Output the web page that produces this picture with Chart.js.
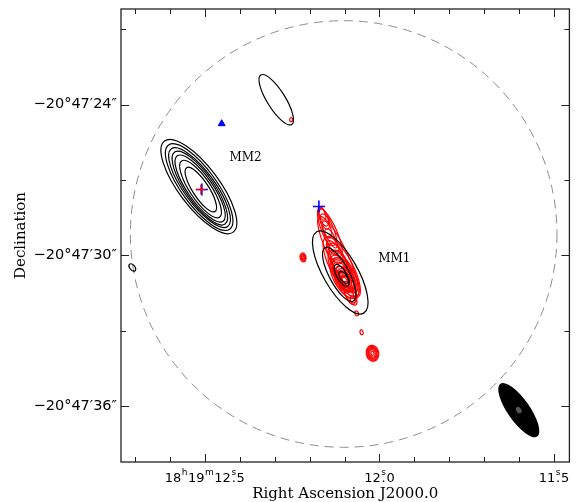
<!DOCTYPE html>
<html>
<head>
<meta charset="utf-8">
<script src="https://cdn.jsdelivr.net/npm/chart.js@4.4.1/dist/chart.umd.min.js"></script>
<style>
  html, body { margin: 0; padding: 0; background: #ffffff; }
  #wrap { width: 577px; height: 502px; }
</style>
</head>
<body>
<div id="wrap"><canvas id="map" width="577" height="502"></canvas></div>
<script>
// Field: RA in seconds of time after 18h19m, Dec in arcsec beyond -20°47'
const raRange  = [11.456, 12.74];
const decRange = [20.19, 38.22];

const raMajorTicks  = [12.5, 12.0, 11.5];
const raMinorTicks  = [12.7, 12.6, 12.4, 12.3, 12.2, 12.1, 11.9, 11.8, 11.7, 11.6];
const raTickLabels  = ["18h19m12s5", "12s0", "11s5"];
const decMajorTicks = [24, 30, 36];
const decMinorTicks = [21, 27, 33];
const decTickLabels = ["\u221220\u00b047\u203224\u2033", "\u221220\u00b047\u203230\u2033", "\u221220\u00b047\u203236\u2033"];

// Contour ellipses: [RA (s), Dec (arcsec), semi-major ("), semi-minor ("), PA (deg E of N)]
const mm2Contours = [
  [12.5170, 27.258, 2.27, 0.80, 37],
  [12.5162, 27.278, 2.07, 0.70, 36],
  [12.5151, 27.298, 1.91, 0.62, 36],
  [12.5142, 27.317, 1.75, 0.56, 35],
  [12.5134, 27.337, 1.59, 0.50, 35],
  [12.5122, 27.357, 1.35, 0.42, 34],
  [12.5114, 27.377, 1.04, 0.32, 33]
];
const northContours = [
  [12.2955, 23.801, 1.16, 0.36, 32],
  [12.7074, 30.476, 0.17, 0.10, 40]
];
const mm1Contours = [
  [12.1122, 30.675, 1.87, 0.68, 30],
  [12.1151, 30.754, 1.20, 0.40, 28],
  [12.1080, 30.794, 0.49, 0.20, 30],
  [12.1023, 30.873, 0.28, 0.13, 35]
];
// Line emission along the MM1 outflow
const mm1LineContours = [
  [12.1591, 28.489, 0.359, 0.159, 20],
  [12.1477, 28.887, 0.876, 0.199, 22],
  [12.1420, 29.085, 1.036, 0.279, 24],
  [12.1193, 29.960, 1.673, 0.359, 26],
  [12.1080, 30.476, 1.355, 0.438, 28],
  [12.1023, 30.714, 1.036, 0.398, 30],
  [12.0994, 30.834, 0.757, 0.319, 32],
  [12.0994, 30.913, 0.558, 0.259, 32],
  [12.0994, 30.953, 0.398, 0.199, 32],
  [12.0994, 30.992, 0.239, 0.139, 35],
  [12.0994, 30.992, 0.139, 0.080, 35],
  [12.0852, 31.588, 0.398, 0.159, 25],
  [12.1648, 28.331, 0.28, 0.12, 22],
  [12.1562, 28.648, 0.32, 0.16, 22],
  [12.1506, 28.966, 0.36, 0.16, 22],
  [12.1420, 29.284, 0.36, 0.18, 24],
  [12.1335, 29.602, 0.40, 0.20, 24],
  [12.1250, 29.920, 0.44, 0.24, 25],
  [12.1165, 30.238, 0.48, 0.28, 26],
  [12.1080, 30.555, 0.52, 0.32, 28],
  [12.0994, 30.953, 0.56, 0.36, 30],
  [12.0909, 31.271, 0.48, 0.28, 30],
  [12.0824, 31.549, 0.36, 0.20, 28],
  [12.0739, 31.787, 0.20, 0.12, 25],
  [12.0994, 30.953, 0.46, 0.30, 30],
  [12.0994, 30.953, 0.34, 0.24, 30],
  [12.0994, 30.953, 0.28, 0.18, 30],
  [12.0994, 30.953, 0.20, 0.13, 30],
  [12.1023, 30.850, 0.66, 0.30, 30],
  [12.1050, 30.700, 0.80, 0.34, 29],
  [12.1000, 30.900, 0.90, 0.42, 30],
  [12.1110, 30.400, 1.10, 0.30, 27]
];
const lineKnots = [
  [12.2188, 30.079, 0.18, 0.12, 10],
  [12.2188, 30.079, 0.14, 0.09, 10],
  [12.2188, 30.079, 0.10, 0.06, 10],
  [12.2188, 30.079, 0.06, 0.04, 10],
  [12.0653, 32.304, 0.10, 0.07, 20],
  [12.0511, 33.058, 0.10, 0.06, 10],
  [12.0199, 33.893, 0.32, 0.25, 10],
  [12.0199, 33.893, 0.28, 0.22, 10],
  [12.0199, 33.893, 0.24, 0.18, 10],
  [12.0199, 33.893, 0.20, 0.15, 10],
  [12.0199, 33.893, 0.15, 0.11, 10],
  [12.0199, 33.893, 0.08, 0.06, 10],
  [12.2528, 24.596, 0.08, 0.06, 0]
];

// Primary beam (dashed) and synthesized beam
const primaryBeam = [12.1023, 29.145, 8.49];
const synthBeam   = [11.6009, 36.157, 1.28, 0.44, 35];
const synthBeamCore = [11.6009, 36.157, 0.14, 0.10, 35];

// Point sources
const blueCrossRa  = [12.5085, 12.1733];
const blueCrossDec = [27.377, 28.052];
const redCrossRa   = [12.5114];
const redCrossDec  = [27.377];
const triangleRa   = [12.4517];
const triangleDec  = [24.755];

// Source names
const sourceNames = ["MM2", "MM1"];
const sourceRa    = [12.3835, 11.9574];
const sourceDec   = [26.106, 30.118];

function toPoints(ra, dec) { return ra.map((r, i) => ({ x: r, y: dec[i] })); }

function ellipsePath(ctx, xs, ys, e) {
  const [ra, dec, maj, mn, pa] = e;
  const cx = xs.getPixelForValue(ra), cy = ys.getPixelForValue(dec);
  const k = Math.abs(ys.getPixelForValue(dec + 1) - cy);
  const p = pa * Math.PI / 180;
  const rot = Math.atan2(-Math.cos(p), -Math.sin(p));
  ctx.beginPath();
  ctx.ellipse(cx, cy, maj * k, mn * k, rot, 0, Math.PI * 2);
}

const contourLayer = {
  id: 'contourLayer',
  beforeDatasetsDraw(chart) {
    const { ctx, chartArea: a, scales: { x, y } } = chart;
    ctx.save();
    ctx.beginPath();
    ctx.rect(a.left, a.top, a.right - a.left, a.bottom - a.top);
    ctx.clip();

    // primary beam circle
    const cx = x.getPixelForValue(primaryBeam[0]);
    const cy = y.getPixelForValue(primaryBeam[1]);
    const r = Math.abs(y.getPixelForValue(primaryBeam[1] + primaryBeam[2]) - cy);
    ctx.setLineDash([9, 6]);
    ctx.strokeStyle = '#8c8c8c';
    ctx.lineWidth = 1;
    ctx.beginPath();
    ctx.arc(cx, cy, r, 0, Math.PI * 2);
    ctx.stroke();
    ctx.setLineDash([]);

    // line emission (red)
    ctx.strokeStyle = '#ff0000';
    ctx.lineWidth = 1.2;
    [...mm1LineContours, ...lineKnots].forEach(e => { ellipsePath(ctx, x, y, e); ctx.stroke(); });

    // continuum (black)
    ctx.strokeStyle = '#000000';
    ctx.lineWidth = 1.2;
    [...mm2Contours, ...northContours, ...mm1Contours].forEach(e => { ellipsePath(ctx, x, y, e); ctx.stroke(); });

    // synthesized beam
    ctx.fillStyle = '#000000';
    ellipsePath(ctx, x, y, synthBeam); ctx.fill();
    ctx.fillStyle = '#555555';
    ellipsePath(ctx, x, y, synthBeamCore); ctx.fill();

    // source names
    ctx.fillStyle = '#000000';
    ctx.font = '12px "DejaVu Serif"';
    ctx.textAlign = 'center';
    ctx.textBaseline = 'middle';
    sourceNames.forEach((n, i) => ctx.fillText(n, x.getPixelForValue(sourceRa[i]), y.getPixelForValue(sourceDec[i])));
    ctx.restore();
  }
};

function drawRaLabel(ctx, text, cx, baseY) {
  const big = '13px "DejaVu Sans"', small = '9px "DejaVu Sans"';
  const parts = [];
  for (const ch of text) {
    if (ch === 'h' || ch === 'm' || ch === 's') parts.push({ t: ch, sup: true });
    else parts.push({ t: ch, sup: false });
  }
  let w = 0;
  parts.forEach(p => {
    ctx.font = p.sup ? small : big;
    p.w = ctx.measureText(p.t).width + (p.sup ? 1 : 0);
    w += p.w;
  });
  let xx = cx - w / 2;
  parts.forEach(p => {
    ctx.font = p.sup ? small : big;
    ctx.textAlign = 'left';
    ctx.textBaseline = 'alphabetic';
    ctx.fillText(p.t, xx + (p.sup ? 0.5 : 0), p.sup ? baseY - 7 : baseY);
    if (p.t === 's') {
      ctx.font = big;
      ctx.textAlign = 'center';
      ctx.fillText('.', xx + p.w / 2, baseY);
    }
    xx += p.w;
  });
}

const frameLayer = {
  id: 'frameLayer',
  afterDraw(chart) {
    const { ctx, chartArea: a, scales: { x, y } } = chart;
    ctx.save();
    ctx.strokeStyle = '#222222';
    ctx.lineWidth = 1.3;
    ctx.strokeRect(a.left, a.top, a.right - a.left, a.bottom - a.top);
    ctx.lineWidth = 1;
    ctx.beginPath();
    const tickX = (v, len) => {
      const px = Math.round(x.getPixelForValue(v)) + 0.5;
      ctx.moveTo(px, a.bottom); ctx.lineTo(px, a.bottom - len);
      ctx.moveTo(px, a.top); ctx.lineTo(px, a.top + len);
    };
    const tickY = (v, len) => {
      const py = Math.round(y.getPixelForValue(v)) + 0.5;
      ctx.moveTo(a.left, py); ctx.lineTo(a.left + len, py);
      ctx.moveTo(a.right, py); ctx.lineTo(a.right - len, py);
    };
    raMajorTicks.forEach(v => tickX(v, 8));
    raMinorTicks.forEach(v => tickX(v, 5));
    decMajorTicks.forEach(v => tickY(v, 8));
    decMinorTicks.forEach(v => tickY(v, 5));
    ctx.stroke();

    ctx.fillStyle = '#000000';
    raMajorTicks.forEach((v, i) => drawRaLabel(ctx, raTickLabels[i], x.getPixelForValue(v), a.bottom + 20));
    ctx.font = '14.5px "DejaVu Sans"';
    ctx.textAlign = 'right';
    ctx.textBaseline = 'middle';
    decMajorTicks.forEach((v, i) => ctx.fillText(decTickLabels[i], a.left - 4, y.getPixelForValue(v)));

    ctx.font = '15px "DejaVu Serif"';
    ctx.textAlign = 'center';
    ctx.textBaseline = 'alphabetic';
    ctx.fillText('Right Ascension J2000.0', (a.left + a.right) / 2, a.bottom + 36);
    ctx.save();
    ctx.translate(25, (a.top + a.bottom) / 2);
    ctx.rotate(-Math.PI / 2);
    ctx.fillText('Declination', 0, 0);
    ctx.restore();
    ctx.restore();
  }
};

new Chart(document.getElementById('map'), {
  type: 'scatter',
  data: {
    datasets: [
      { label: 'ref', data: toPoints(redCrossRa, redCrossDec), pointStyle: 'cross', pointRadius: 5, borderColor: '#ff0000', borderWidth: 1.2 },
      { label: 'cont', data: toPoints(blueCrossRa, blueCrossDec), pointStyle: 'cross', pointRadius: 6, borderColor: '#0000ff', borderWidth: 1.6 },
      { label: 'maser', data: toPoints(triangleRa, triangleDec), pointStyle: 'triangle', pointRadius: 4, backgroundColor: '#0000ff', borderColor: '#0000ff', borderWidth: 1 }
    ]
  },
  options: {
    responsive: false,
    animation: false,
    devicePixelRatio: 1,
    layout: { padding: { left: 121, top: 9, right: 4, bottom: 40 } },
    plugins: { legend: { display: false }, tooltip: { enabled: false } },
    scales: {
      x: { type: 'linear', reverse: true, min: raRange[0], max: raRange[1], display: false },
      y: { type: 'linear', reverse: true, min: decRange[0], max: decRange[1], display: false }
    }
  },
  plugins: [contourLayer, frameLayer]
});
</script>
</body>
</html>
